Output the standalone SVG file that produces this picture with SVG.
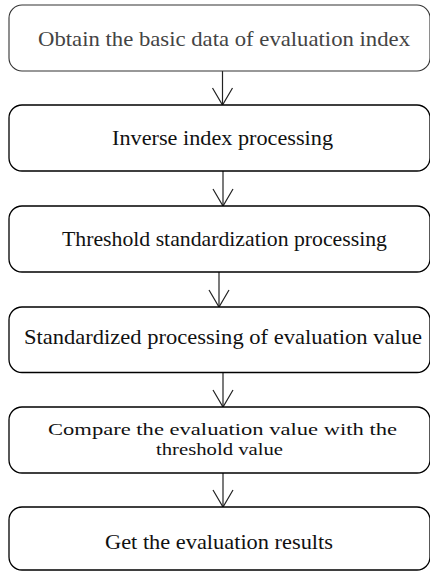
<svg xmlns="http://www.w3.org/2000/svg" width="430" height="573" viewBox="0 0 430 573">
<style>
.box{fill:#fff;stroke:#000;stroke-width:1.3}
.box1{fill:#fff;stroke:#333;stroke-width:1.1}
.t{font-family:"Liberation Serif","Times New Roman",serif;font-size:22px;fill:#111;text-anchor:middle}
.t1{fill:#444}
.s{font-size:17.5px}
.c{stroke:#222;stroke-width:1.2;fill:none}
</style>
<rect width="430" height="573" fill="#fff"/>
<g id="connectors">
<line class="c" x1="222.5" y1="71" x2="222.5" y2="105"/>
<polyline class="c" points="212.5,88 222.5,105 232.5,88"/>
<line class="c" x1="223" y1="171" x2="223" y2="206"/>
<polyline class="c" points="213,189 223,206 233,189"/>
<line class="c" x1="219" y1="272" x2="219" y2="307"/>
<polyline class="c" points="209,290 219,307 229,290"/>
<line class="c" x1="223" y1="372.5" x2="223" y2="407"/>
<polyline class="c" points="213,390 223,407 233,390"/>
<line class="c" x1="223" y1="473" x2="223" y2="507"/>
<polyline class="c" points="213,490 223,507 233,490"/>
</g>
<g id="n1">
<rect class="box1" x="9" y="5" width="421" height="66" rx="13" ry="13"/>
<text class="t t1" x="224" y="46" textLength="372" lengthAdjust="spacingAndGlyphs">Obtain the basic data of evaluation index</text>
</g>
<g id="n2">
<rect class="box" x="9" y="105" width="421" height="66" rx="13" ry="13"/>
<text class="t" x="222.5" y="145" textLength="221" lengthAdjust="spacingAndGlyphs">Inverse index processing</text>
</g>
<g id="n3">
<rect class="box" x="9" y="206" width="421" height="66" rx="13" ry="13"/>
<text class="t" x="224.5" y="246" textLength="325" lengthAdjust="spacingAndGlyphs">Threshold standardization processing</text>
</g>
<g id="n4">
<rect class="box" x="9" y="307" width="421" height="65.5" rx="13" ry="13"/>
<text class="t" x="223" y="344" textLength="398" lengthAdjust="spacingAndGlyphs">Standardized processing of evaluation value</text>
</g>
<g id="n5">
<rect class="box" x="9" y="407" width="421" height="66" rx="13" ry="13"/>
<text class="t s" x="222.5" y="435" textLength="349" lengthAdjust="spacingAndGlyphs">Compare the evaluation value with the</text>
<text class="t s" x="219.5" y="455" textLength="127" lengthAdjust="spacingAndGlyphs">threshold value</text>
</g>
<g id="n6">
<rect class="box" x="9" y="507" width="421" height="63" rx="13" ry="13"/>
<text class="t" x="219" y="549" textLength="228" lengthAdjust="spacingAndGlyphs">Get the evaluation results</text>
</g>
</svg>
